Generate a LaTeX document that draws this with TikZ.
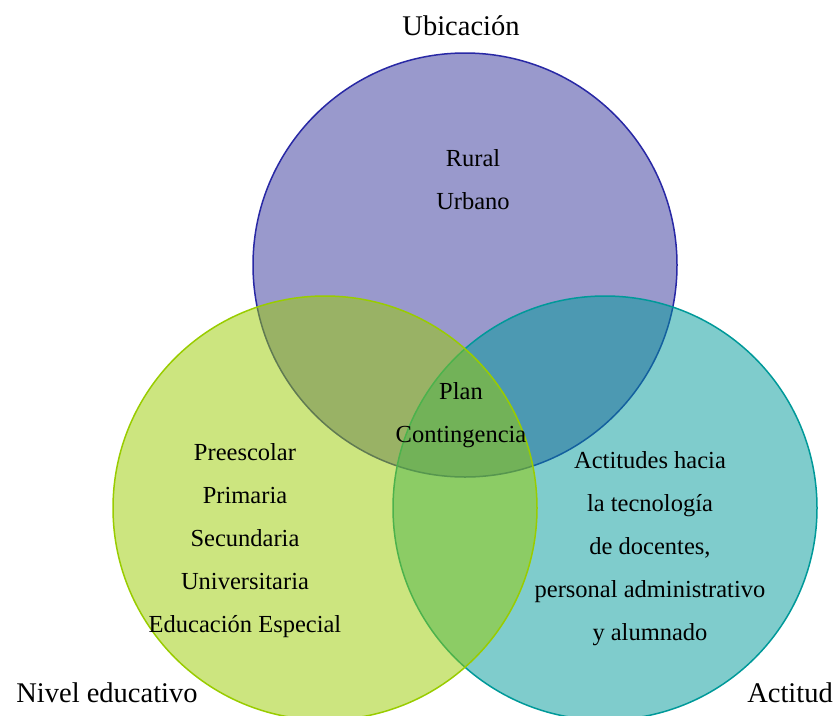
\documentclass[tikz,border=0pt]{standalone}
\usepackage{fontspec}
\setmainfont{Liberation Serif}
\usetikzlibrary{positioning}
\definecolor{ubicfill}{RGB}{51,51,153}
\definecolor{ubicline}{RGB}{40,40,165}
\definecolor{nivelfill}{RGB}{153,204,0}
\definecolor{actitfill}{RGB}{0,153,153}
\tikzset{set node/.style={circle,minimum size=424pt,inner sep=0pt,line width=1.5pt,fill opacity=0.5},
  set label/.style={font=\fontsize{28.5}{34}\selectfont,inner sep=0pt,anchor=base},
  set text/.style={font=\fontsize{24.5}{43}\selectfont,align=center,inner sep=0pt,anchor=base},
}

\begin{document}
\begin{tikzpicture}[x=1pt,y=-1pt]
		\useasboundingbox (0,0) rectangle (834,715);
		% circles: top, right, left
		\node[set node,draw=ubicline,fill=ubicfill] (U) at (465,265) {};
		\node[set node,draw=actitfill,fill=actitfill] (A) at (605,508) {};
		\node[set node,draw=nivelfill,fill=nivelfill] (N) at (325,508) {};
		
		\node[set label] (UL) at (461,35) {Ubicación};
		\node[set label] (NL) at (107,702) {Nivel educativo};
		\node[set label] (AL) at (790,702) {Actitud};
		
		% base anchor sits on the last line
		\node[set text] (UT) at (473,209) {Rural\\Urbano};
		\node[set text] (NT) at (245,632) {Preescolar\\Primaria\\Secundaria\\Universitaria\\Educación Especial};
		\node[set text] (AT) at (650,640) {Actitudes hacia\\la tecnología\\de docentes,\\personal administrativo\\y alumnado};
		\node[set text] (PT) at (461,442) {Plan\\Contingencia};
		
	\end{tikzpicture}
\end{document}
